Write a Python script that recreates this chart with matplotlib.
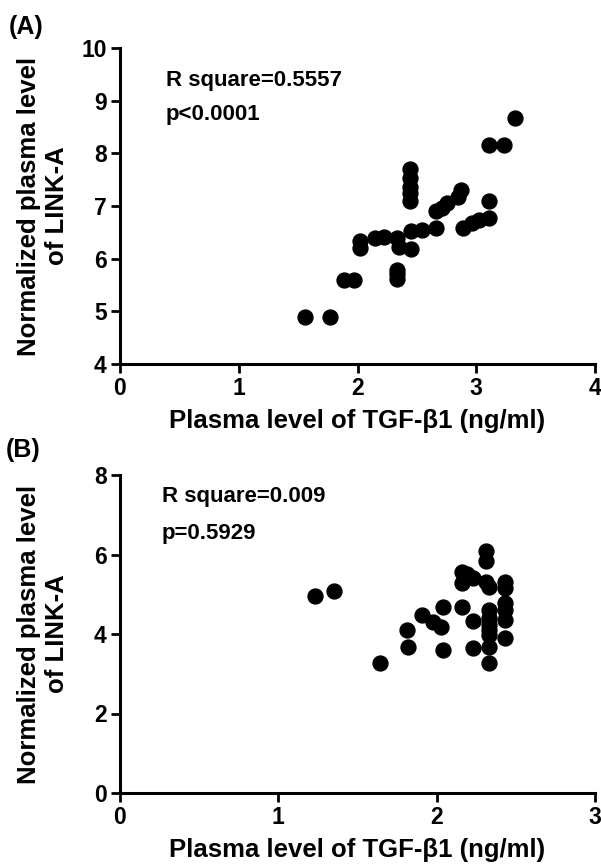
import matplotlib.pyplot as plt

plt.rcParams['font.family'] = ['Liberation Sans', 'DejaVu Sans']
plt.rcParams['font.weight'] = 'bold'
plt.rcParams['axes.labelweight'] = 'bold'

# panel A data: TGF-b1 vs LINK-A
tgf_a = [3.33, 3.11, 3.23,
         2.44, 2.44, 2.44, 2.44, 2.44,
         2.87, 2.85, 3.11,
         2.75, 2.71, 2.66, 3.11,
         3.02, 2.96, 2.89, 2.66, 2.54, 2.45,
         2.15, 2.22, 2.33, 2.35, 2.45,
         2.02, 2.02,
         2.33, 2.33, 2.33,
         1.89, 1.97,
         1.56, 1.77]
link_a = [8.67, 8.16, 8.16,
          7.70, 7.53, 7.37, 7.25, 7.09,
          7.30, 7.18, 7.09,
          7.06, 6.96, 6.90, 6.77,
          6.74, 6.67, 6.58, 6.58, 6.55, 6.53,
          6.39, 6.41, 6.39, 6.22, 6.19,
          6.33, 6.20,
          5.78, 5.70, 5.62,
          5.60, 5.60,
          4.89, 4.89]
xticks_a = [0, 1, 2, 3, 4]
yticks_a = [4, 5, 6, 7, 8, 9, 10]

# panel B data
tgf_b = [1.23, 1.35, 1.64,
         1.81, 1.82, 1.91, 2.04, 1.98, 2.03, 2.04,
         2.16, 2.16, 2.19, 2.16, 2.23,
         2.23, 2.23,
         2.31, 2.31, 2.31, 2.33,
         2.33, 2.33, 2.33, 2.33, 2.33, 2.33, 2.33,
         2.43, 2.43, 2.43, 2.43, 2.43, 2.43]
link_b = [4.95, 5.08, 3.27,
          4.10, 3.68, 4.49, 4.67, 4.31, 4.18, 3.59,
          4.67, 5.57, 5.50, 5.29, 5.42,
          4.33, 3.64,
          6.08, 5.84, 5.32, 5.17,
          4.60, 4.39, 4.22, 4.10, 3.97, 3.68, 3.27,
          5.31, 5.15, 4.77, 4.60, 4.35, 3.89]
xticks_b = [0, 1, 2, 3]
yticks_b = [0, 2, 4, 6, 8]

fig = plt.figure(figsize=(6.01, 8.64), dpi=100)
ax1 = fig.add_axes([120/601, 1-364/864, 475/601, 316/864])
ax2 = fig.add_axes([120/601, 1-793/864, 475/601, 318/864])

def style(ax, xt, yt):
    for s in ['top', 'right']:
        ax.spines[s].set_visible(False)
    for s in ['left', 'bottom']:
        ax.spines[s].set_linewidth(2.2)
    ax.set_xticks(xt, [str(t) for t in xt], fontweight='bold', fontsize=16.5)
    ax.set_yticks(yt, [str(t) for t in yt], fontweight='bold', fontsize=16.5)
    ax.tick_params(width=2, length=6.5, pad=3)

ax1.scatter(tgf_a, link_a, s=115, color='black', clip_on=False, zorder=3)
ax1.set_xlim(0, 4)
ax1.set_ylim(4, 10)
style(ax1, xticks_a, yticks_a)
ax1.text(0.387, 9.385, 'R square=0.5557', fontsize=16, va='center')
ax1.text(0.387, 8.73, 'p<0.0001', fontsize=16, va='center')

ax2.scatter(tgf_b, link_b, s=115, color='black', clip_on=False, zorder=3)
ax2.set_xlim(0, 3)
ax2.set_ylim(0, 8)
style(ax2, xticks_b, yticks_b)
ax2.text(0.263, 7.46, 'R square=0.009', fontsize=16, va='center')
ax2.text(0.263, 6.53, 'p=0.5929', fontsize=16, va='center')

for ax in [ax1, ax2]:
    ax.set_xlabel('Plasma level of TGF-β1 (ng/ml)', fontsize=18.5,
                  fontweight='bold', labelpad=6)
    ax.set_ylabel('Normalized plasma level\nof LINK-A', fontsize=18.5,
                  fontweight='bold', va='center', linespacing=1.25)
    ax.yaxis.set_label_coords(-0.162, 0.5)

fig.text(9/601, 1-27/864, '(A)', fontsize=18, va='center')
fig.text(6/601, 1-450/864, '(B)', fontsize=18, va='center')

fig.savefig('out.png', dpi=100)
